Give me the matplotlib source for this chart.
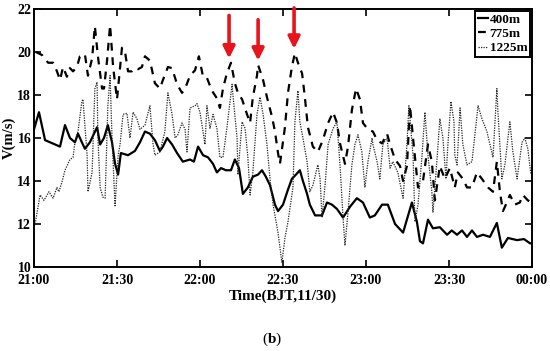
import matplotlib
matplotlib.use("Agg")
import matplotlib.pyplot as plt
import numpy as np

plt.rcParams['font.family'] = ['Liberation Serif', 'DejaVu Serif']
plt.rcParams['mathtext.fontset'] = 'custom'
plt.rcParams['mathtext.rm'] = 'Liberation Serif'
plt.rcParams['mathtext.bf'] = 'Liberation Serif:bold'

# time in minutes after 21:00
t400 = [0, 1.8, 4.0, 5.8, 7.6, 9.4, 11.2, 13.0, 14.8, 15.9, 17.3, 18.4, 20.2, 22.8, 23.9, 25.3, 26.7, 28.2, 29.3, 30.4,
        31.4, 34.0, 36.5, 38.3, 40.1, 41.9, 43.7, 45.5, 46.6, 48.1, 49.9, 51.7, 53.8, 56.4, 57.8, 59.3, 61.1, 62.9, 64.7,
        66.1, 67.6, 69.4, 71.2, 72.6, 74.1, 75.5, 77.3, 79.1, 81.0, 82.4, 83.8, 85.3, 87.1, 88.2, 90.0, 91.8, 93.2, 94.7,
        96.1, 97.2, 98.7, 99.7, 101.6, 104.1, 105.9, 107.7, 109.5, 111.7, 114.2, 116.7, 118.9, 121.4, 123.2, 125.8, 127.9,
        130.5, 133.4, 136.6, 138.4, 139.5, 140.6, 142.4, 144.2, 146.7, 149.3, 151.0, 152.9, 154.7, 156.5, 158.3, 160.1,
        162.3, 164.8, 167.3, 169.1, 171.3, 174.6, 177.1, 179.3, 180.0]
v400 = [16.4, 17.2, 15.9, 15.8, 15.7, 15.6, 16.6, 16.0, 15.8, 16.2, 15.8, 15.5, 15.8, 16.5, 15.7, 16.0, 16.6, 15.8, 14.8, 14.3,
        15.3, 15.2, 15.4, 15.8, 16.3, 16.2, 15.9, 15.4, 15.6, 16.0, 15.7, 15.3, 14.9, 15.0, 14.9, 15.6, 15.2, 15.1, 14.8,
        14.4, 14.6, 14.5, 14.5, 15.0, 14.6, 13.4, 13.7, 14.2, 14.3, 14.5, 14.2, 13.8, 12.9, 12.6, 12.9, 13.6, 14.1, 14.3,
        14.5, 14.0, 13.4, 12.9, 12.4, 12.4, 13.0, 12.9, 12.7, 12.3, 12.8, 13.2, 13.0, 12.3, 12.4, 12.9, 12.9,
        12.0, 11.6, 13.0, 12.1, 11.2, 11.1, 12.2, 11.8, 11.85, 11.5, 11.7, 11.5, 11.7, 11.4, 11.7, 11.4,
        11.5, 11.4, 12.05, 10.9, 11.35, 11.25, 11.3, 11.1, 11.1]

t775 = [0.7, 2.9, 5.1, 6.9, 8.3, 9.4, 10.5, 11.9, 13.0, 14.1, 15.5, 16.6, 18.4, 19.5, 21.0, 22.0, 23.1, 24.6, 25.3, 26.4,
        27.5, 28.6, 30.0, 31.8, 32.9, 34.0, 35.4, 36.5, 37.6, 39.0, 40.1, 41.9, 43.7, 45.5, 46.6, 48.4, 49.9, 51.7, 53.5,
        54.6, 56.4, 58.2, 59.6, 61.1, 62.5, 64.3, 66.1, 67.2, 68.3, 69.7, 71.2, 72.6, 73.7, 75.2, 77.0, 78.1, 79.1, 80.6,
        81.0, 82.8, 84.2, 86.0, 87.1, 88.2, 88.9, 90.7, 91.8, 93.2, 94.3, 95.4, 96.9, 97.9, 99.0, 100.8, 102.6, 104.4,
        106.3, 108.1, 109.5, 110.6, 112.4, 113.5, 114.9, 116.4, 117.8, 118.9, 120.7, 122.5, 124.0, 125.8, 127.6, 128.7,
        130.5, 132.3, 133.4, 134.8, 135.9, 137.0, 138.8, 140.6, 142.4, 143.8, 144.9, 146.7, 148.5, 150.3, 152.1, 153.2,
        155.0, 156.5, 158.3, 160.1, 161.9, 164.1, 165.9, 167.3, 168.4, 169.5, 170.9, 172.0, 173.8, 175.6, 176.7, 178.5,
        180.0]
v775 = [20.0, 19.86, 19.5, 19.5, 19.1, 18.7, 19.3, 18.85, 19.25, 19.1, 19.3, 19.8, 19.9, 18.9, 19.7, 21.2, 19.8, 18.3, 18.3, 19.6,
        21.25, 19.3, 17.8, 20.2, 20.0, 19.1, 19.1, 19.25, 19.2, 19.3, 19.8, 19.6, 18.55, 18.3, 18.7, 19.3, 19.25, 18.5, 18.1,
        18.3, 18.9, 19.15, 19.8, 18.85, 18.8, 18.2, 17.85, 17.4, 18.3, 19.0, 19.5, 18.55, 18.1, 17.8, 17.1, 16.7, 17.9, 18.9,
        19.4, 18.7, 17.9, 17.0, 16.3, 15.3, 14.8, 16.5, 18.1, 19.3, 19.95, 19.5, 19.0, 17.9, 16.5, 15.6, 15.35, 15.9,
        16.7, 17.2, 16.7, 15.75, 14.8, 15.6, 17.3, 18.3, 17.8, 16.7, 16.4, 16.3, 15.9, 15.75, 16.2, 15.7,
        15.0, 14.7, 14.0, 14.7, 17.5, 16.0, 13.7, 14.0, 15.7, 14.9, 13.1, 14.7, 14.1, 14.6, 13.7, 14.4,
        14.1, 13.7, 13.7, 14.4, 14.1, 13.7, 13.5, 14.9, 13.5, 12.6, 13.0, 13.35, 12.9, 13.0, 13.35, 13.1,
        13.0]

t1225 = [0, 0.4, 2.2, 3.6, 5.4, 6.9, 8.3, 9.0, 10.1, 11.2, 12.3, 13.0, 14.1, 14.8, 15.9, 17.3, 17.7, 19.2, 19.5, 21.0,
         22.0, 22.8, 23.1, 23.9, 24.9, 25.7, 26.7, 27.5, 28.2, 29.3, 30.4, 31.1, 32.2, 33.6, 34.7, 35.8, 37.2, 38.3, 40.1,
         41.9, 43.0, 43.7, 45.5, 47.3, 48.4, 49.9, 51.0, 52.0, 53.5, 54.6, 55.3, 56.4, 58.2, 58.9, 60.0, 61.8, 62.5, 63.6,
         64.7, 66.1, 67.2, 68.3, 69.7, 71.6, 71.9, 73.4, 73.7, 75.2, 76.3, 77.3, 78.1, 79.1, 80.6, 81.7, 82.8, 84.2, 85.3,
         86.4, 88.2, 89.6, 90.7, 91.8, 93.6, 94.3, 95.4, 96.1, 97.2, 98.7, 99.7, 100.8, 102.6, 103.4, 104.1, 105.2, 106.3,
         108.1, 109.5, 110.6, 111.7, 112.4, 113.5, 114.9, 116.0, 117.1, 118.5, 119.6, 120.7, 122.2, 122.5, 124.0, 125.0,
         126.1, 127.6, 128.7, 129.7, 131.5, 133.4, 134.8, 135.5, 137.0, 137.7, 138.8, 140.2, 141.3, 142.4, 143.8, 144.2,
         145.6, 146.7, 147.8, 148.9, 149.6, 150.7, 151.8, 152.1, 152.9, 154.0, 155.0, 156.5, 158.3, 160.5, 161.9, 163.7,
         164.8, 165.9, 167.3, 167.7, 169.1, 170.2, 172.0, 173.1, 174.6, 176.4, 177.4, 178.5, 179.6]
v1225 = [11.9, 12.0, 13.35, 13.1, 13.5, 13.2, 13.7, 13.5, 13.95, 14.5, 14.8, 15.0, 15.1, 15.8, 16.3, 17.7, 17.8, 15.2, 13.5, 14.4,
         18.3, 18.6, 16.0, 13.7, 13.25, 13.2, 17.5, 18.9, 16.0, 12.85, 15.2, 15.7, 17.1, 17.15, 16.0, 17.2, 16.9, 16.4, 16.6,
         17.5, 15.75, 15.2, 15.35, 16.3, 18.1, 17.1, 16.0, 16.15, 16.7, 16.4, 15.35, 17.4, 17.5, 17.6, 17.2, 15.7, 17.5, 16.45,
         17.1, 16.45, 15.1, 15.1, 16.45, 18.5, 18.0, 16.0, 14.3, 16.75, 16.45, 15.1, 13.35, 14.4, 17.1, 17.9, 17.1, 15.7, 14.1,
         12.9, 11.6, 10.2, 11.35, 12.1, 13.7, 16.75, 18.2, 16.75, 16.0, 14.9, 13.5, 13.8, 14.75, 14.1, 12.3, 13.8, 15.7,
         16.45, 16.75, 14.75, 12.3, 11.0, 12.55, 14.75, 15.7, 16.15, 15.35, 13.7, 14.9, 16.0, 15.7, 14.9, 14.1,
         15.7, 16.0, 14.6, 14.9, 14.4, 13.2, 15.7, 17.5, 15.2, 12.1, 12.9, 15.1, 17.2, 15.2, 13.5, 12.55,
         14.9, 16.9, 16.0, 14.1, 15.7, 17.7, 16.75, 15.2, 14.75, 17.4, 15.7, 14.75, 14.9, 17.5, 16.9, 16.3,
         15.7, 15.1, 18.3, 17.2, 14.1, 14.75, 16.75, 15.35, 14.1, 15.8, 16.0, 15.5, 14.3]

xticks = [0, 30, 60, 90, 120, 150, 180]
xticklabels = ['21:00', '21:30', '22:00', '22:30', '23:00', '23:30', '00:00']
yticks = [10, 12, 14, 16, 18, 20, 22]
arrow_t = [70.5, 81.0, 94.0]
arrow_tip = [19.7, 19.6, 20.15]
arrow_tail = [21.7, 21.5, 22.05]

fig = plt.figure(figsize=(5.5, 3.51), dpi=100)
ax = fig.add_axes([34/550, 1-267/351, 498/550, 258/351])

ax.plot(t400, v400, color='black', lw=1.6, ls='-', label='400m')
ax.plot(t775, v775, color='black', lw=1.6, dashes=(3.5, 3), label='775m')
ax.plot(t1225, v1225, color='#222222', lw=0.9, dashes=(1, 1), label='1225m')

for x, tip, tail in zip(arrow_t, arrow_tip, arrow_tail):
    ax.annotate('', xy=(x, tip), xytext=(x, tail),
                arrowprops=dict(arrowstyle='-|>,head_width=0.35,head_length=0.7',
                                color='#e8141c', lw=2.6, shrinkA=0, shrinkB=0),
                annotation_clip=False)

ax.set_xlim(0, 180)
ax.set_ylim(10, 22)
ax.set_xticks(xticks)
ax.set_xticklabels(xticklabels)
ax.set_yticks(yticks)
ax.tick_params(direction='in', length=5, width=1.2, top=True, right=True,
               labelsize=10)
ax.tick_params(axis='x', pad=5)
ax.tick_params(axis='y', pad=2)
for lab in ax.get_xticklabels() + ax.get_yticklabels():
    lab.set_fontweight('bold')
for s in ax.spines.values():
    s.set_linewidth(1.4)

ax.set_xlabel('Time(BJT,11/30)', fontsize=11, fontweight='bold', labelpad=2)
ax.set_ylabel('V(m/s)', fontsize=10.5, fontweight='bold', labelpad=1)

leg = ax.legend(loc='upper right', prop={'weight': 'bold', 'size': 9.5},
                handlelength=0.8, handletextpad=0.1, borderpad=0.2, labelspacing=0.15,
                borderaxespad=0.15, fancybox=False, framealpha=1, edgecolor='black')
leg.get_frame().set_linewidth(1.4)

fig.text(272/550, 1-339/351, r'($\mathbf{b}$)', ha='center', va='center', fontsize=11)

fig.savefig('out.png', dpi=100)
